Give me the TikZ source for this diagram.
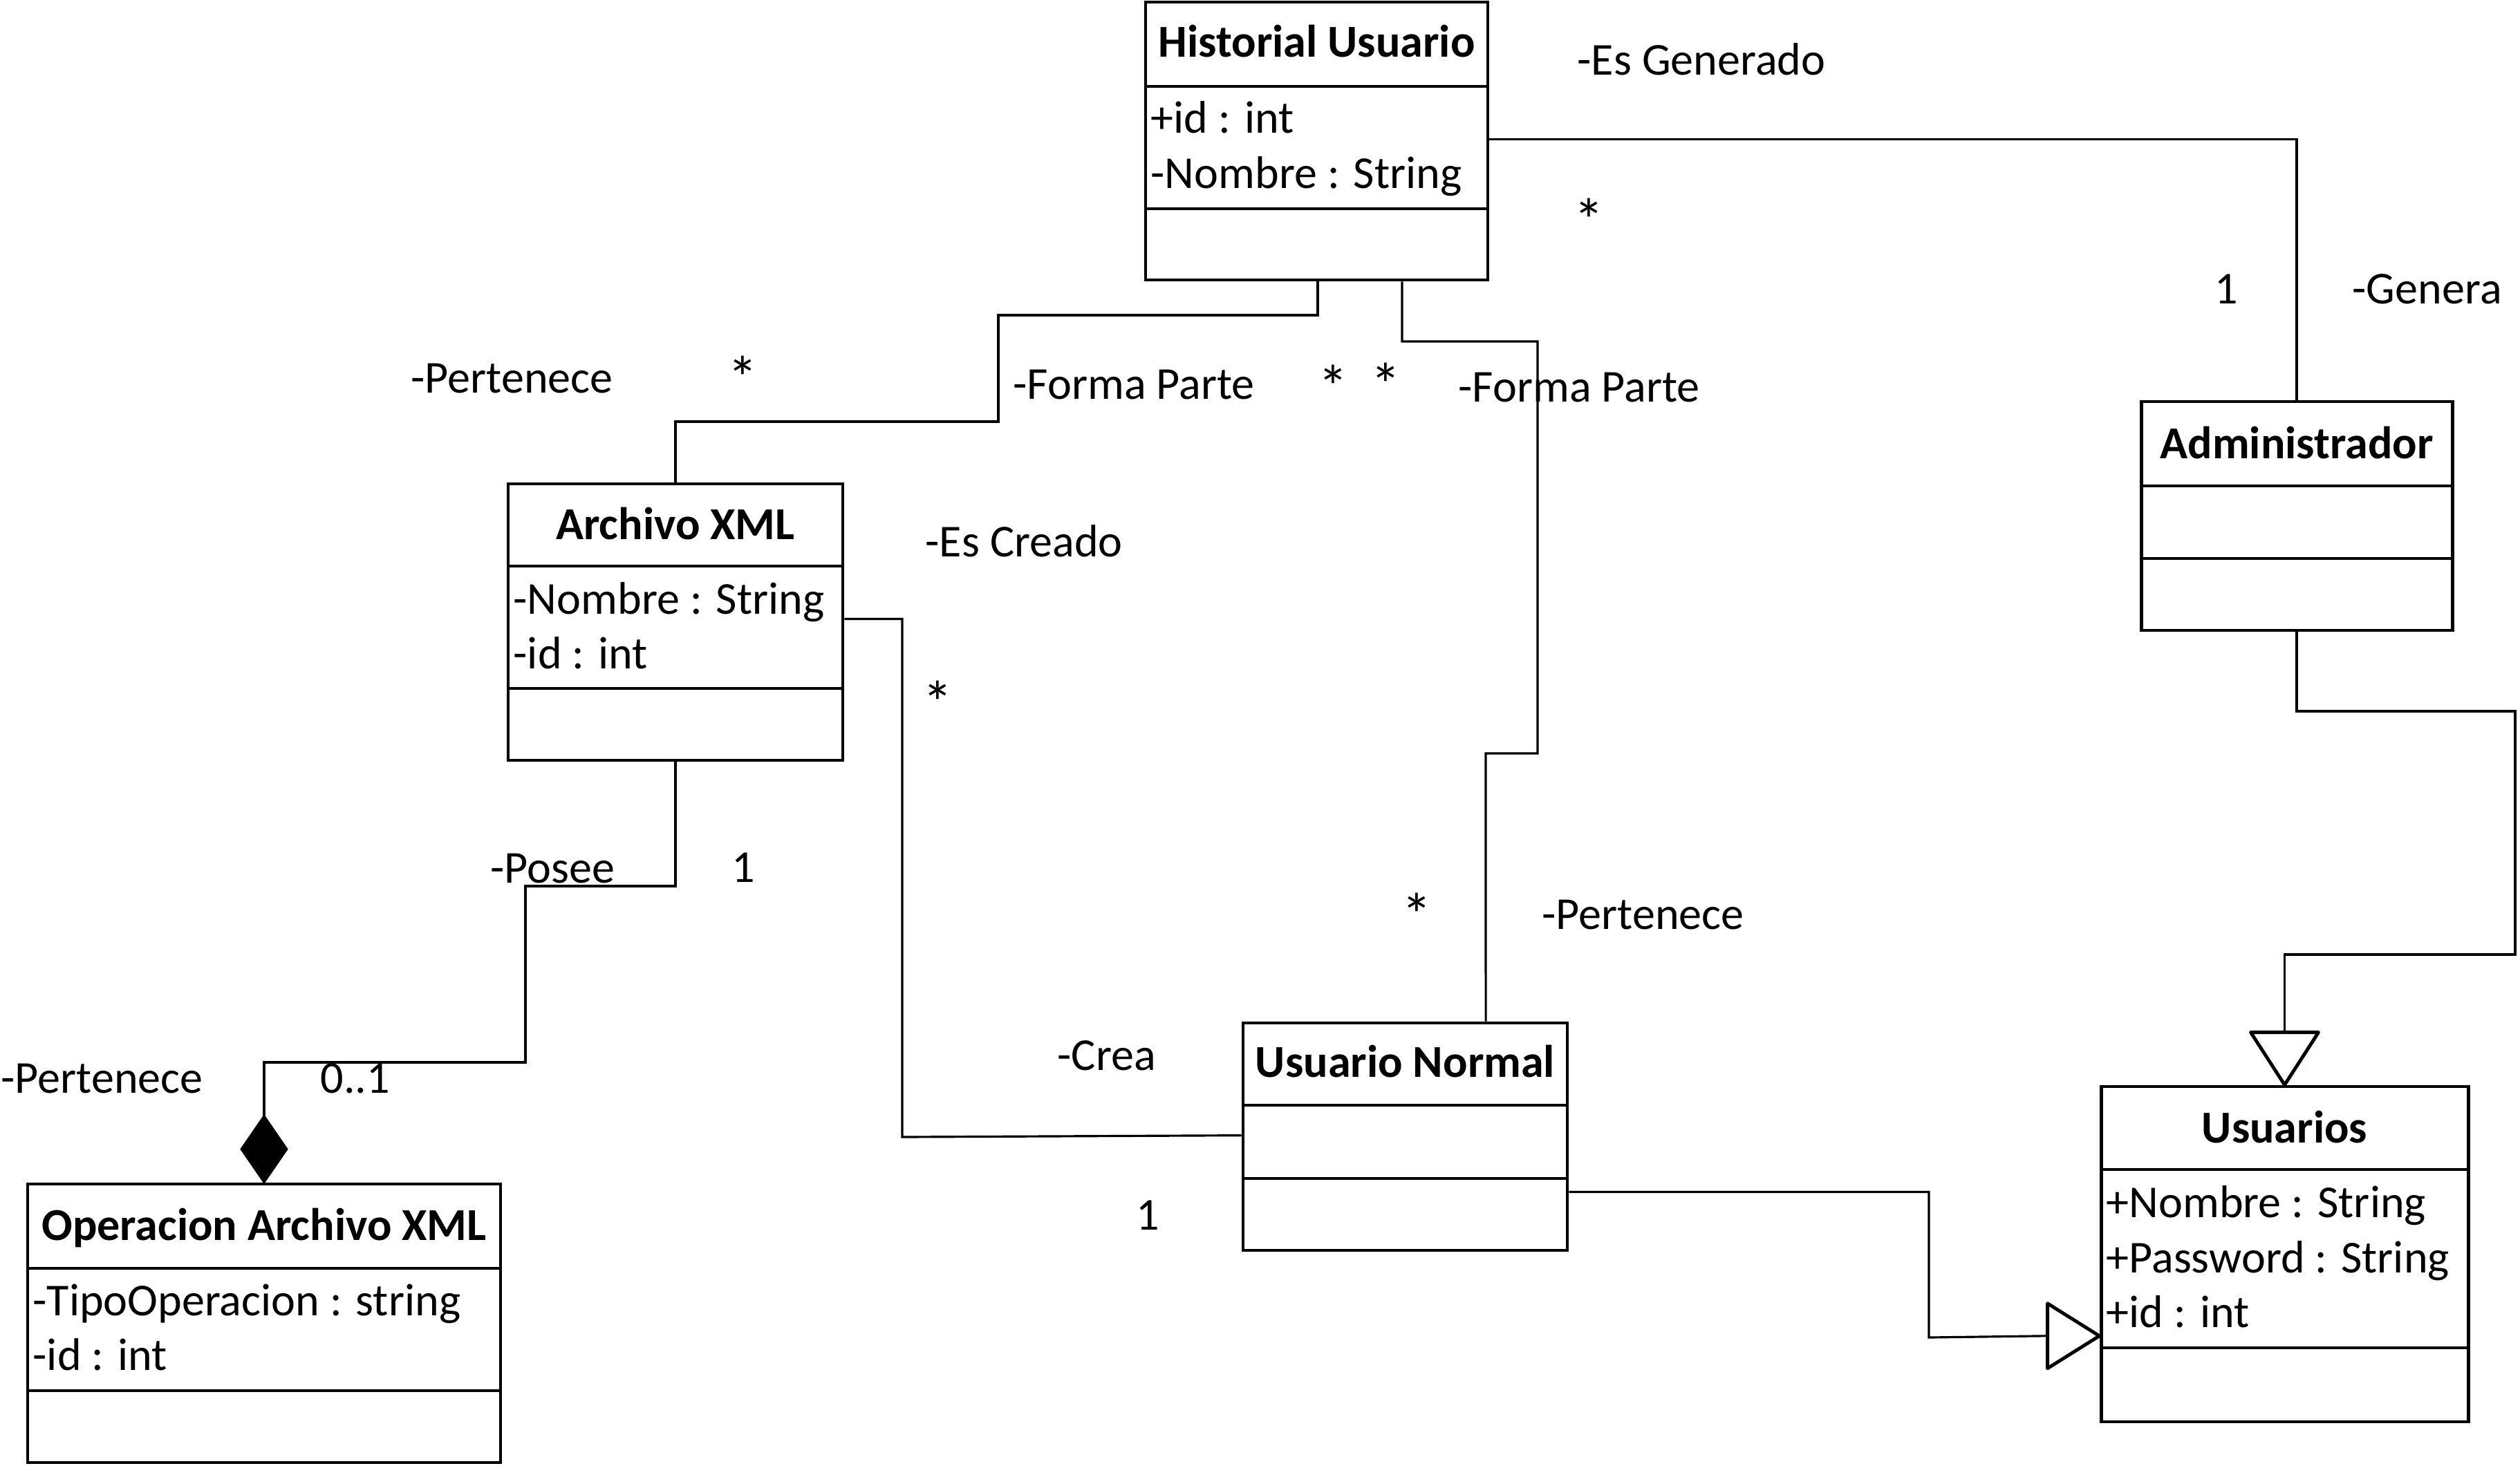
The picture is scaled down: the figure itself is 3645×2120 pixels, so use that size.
\documentclass[tikz,border=0pt]{standalone}
\usepackage{fontspec}
\setmainfont{Carlito}
\usetikzlibrary{fit}
\begin{document}
\begin{tikzpicture}[x=0.01cm,y=-0.01cm,
  box/.style={draw,line width=1.4pt,inner sep=0pt,rectangle},
  sepl/.style={line width=1.3pt},
  conn/.style={line width=0.9pt},
  gen/.style={draw,line width=1.4pt,fill=white,line join=round},
  comp/.style={draw,fill=black,line width=0.8pt},
  ttl/.style={font=\bfseries\fontsize{18.8pt}{22.6pt}\selectfont,anchor=base,inner sep=0pt},
  att/.style={font=\fontsize{18.8pt}{22.6pt}\selectfont,anchor=base west,inner sep=0pt},
  mult/.style={font=\fontsize{18.8pt}{22.6pt}\selectfont,anchor=base,inner sep=0pt},
  star/.style={font=\fontsize{25pt}{30pt}\selectfont,anchor=base,inner sep=0pt,yshift=-0.12cm}]
\useasboundingbox (0,0) rectangle (3645,2120);

% ---------- Historial Usuario ----------
\node[box,fit={(1657,3) (2152,405)}] (H) {};
\draw[sepl] (1657,125) -- (2152,125);
\draw[sepl] (1657,302) -- (2152,302);
\node[ttl] (Ht) at (1904.5,82) {Historial Usuario};
\node[att] (Ha1) at (1664,192) {+id : int};
\node[att] (Ha2) at (1664,272) {-Nombre : String};

% ---------- Archivo XML ----------
\node[box,fit={(735,700) (1219,1100)}] (A) {};
\draw[sepl] (735,819) -- (1219,819);
\draw[sepl] (735,996) -- (1219,996);
\node[ttl] (At) at (977,780) {Archivo XML};
\node[att] (Aa1) at (742,888) {-Nombre : String};
\node[att] (Aa2) at (742,967) {-id : int};

% ---------- Operacion Archivo XML ----------
\node[box,fit={(40,1713) (724,2116)}] (O) {};
\draw[sepl] (40,1835) -- (724,1835);
\draw[sepl] (40,2012) -- (724,2012);
\node[ttl] (Ot) at (382,1794) {Operacion Archivo XML};
\node[att] (Oa1) at (47,1903) {-TipoOperacion : string};
\node[att] (Oa2) at (47,1982) {-id : int};

% ---------- Usuario Normal ----------
\node[box,fit={(1798,1480) (2267,1809)}] (UN) {};
\draw[sepl] (1798,1599) -- (2267,1599);
\draw[sepl] (1798,1705) -- (2267,1705);
\node[ttl] (UNt) at (2032.5,1558) {Usuario Normal};

% ---------- Administrador ----------
\node[box,fit={(3097,581) (3547,912)}] (Ad) {};
\draw[sepl] (3097,703) -- (3547,703);
\draw[sepl] (3097,808) -- (3547,808);
\node[ttl] (Adt) at (3322,663) {Administrador};

% ---------- Usuarios ----------
\node[box,fit={(3039,1572) (3570,2057)}] (Us) {};
\draw[sepl] (3039,1692) -- (3570,1692);
\draw[sepl] (3039,1950) -- (3570,1950);
\node[ttl] (Ust) at (3304.5,1653) {Usuarios};
\node[att] (Usa1) at (3046,1761) {+Nombre : String};
\node[att] (Usa2) at (3046,1841) {+Password : String};
\node[att] (Usa3) at (3046,1920) {+id : int};

% ---------- composition diamond ----------
\coordinate (dmb) at (O.north);
\draw[comp] (dmb) -- ++(-33,-48) -- ++(33,-48) -- ++(33,48) -- cycle;
\coordinate (dmt) at ([yshift=0.96cm]dmb);

% ---------- generalization triangles ----------
\coordinate (g1tip) at ([yshift=-3.63cm]Us.north west);
\draw[gen] (g1tip) -- ++(-75,-47) -- ++(0,94) -- cycle;
\coordinate (g1base) at ([xshift=-0.75cm]g1tip);
\coordinate (g2tip) at (Us.north);
\draw[gen] (g2tip) -- ++(-49,-76) -- ++(98,0) -- cycle;
\coordinate (g2base) at ([yshift=0.76cm]g2tip);

% ---------- connectors ----------
\draw[conn] (H.north east) ++(0,201) -| (Ad.north);
\draw[conn] (H.south) ++(1.5,0) |- (1444,456) |- (977,610) -- (A.north);
\draw[conn] (H.south) ++(123.5,0) |- (2224,494) |- (2149,1090) -- ([xshift=1.165cm]UN.north);
\draw[conn] (A.north east) ++(0,198) -| (1305,1645) -- ([yshift=-1.65cm]UN.north west);
\draw[conn] (A.south) |- (760,1282) |- (382,1537) -- (dmt);
\draw[conn] (UN.north east) ++(0,247) -| (2790,1935) -- (g1base);
\draw[conn] (Ad.south) |- (3638,1029) |- (3304.5,1381) -- (g2base);

% ---------- labels ----------
\node[att] (l1) at (2281,108) {-Es Generado};
\node[star] (m1) at (2298,337) {*};
\node[mult] (m2) at (3220,439) {1};
\node[att] (l2) at (3402,439) {-Genera};
\node[att] (l3) at (594,568) {-Pertenece};
\node[star] (m3) at (1074,565) {*};
\node[att] (l4) at (1465,577) {-Forma Parte};
\node[star] (m4) at (1928,578) {*};
\node[star] (m5) at (2004,575) {*};
\node[att] (l5) at (2109,581) {-Forma Parte};
\node[att] (l6) at (1338,805) {-Es Creado};
\node[star] (m6) at (1356,1035) {*};
\node[star] (m7) at (2049,1342) {*};
\node[att] (l7) at (2230,1344) {-Pertenece};
\node[att] (l8) at (1529,1548) {-Crea};
\node[mult] (m8) at (1660,1779) {1};
\node[att] (l9) at (709,1277) {-Posee};
\node[mult] (m9) at (1075,1276) {1};
\node[att] (l10) at (1,1581) {-Pertenece};
\node[att] (l11) at (463,1581) {0..1};
\end{tikzpicture}
\end{document}
